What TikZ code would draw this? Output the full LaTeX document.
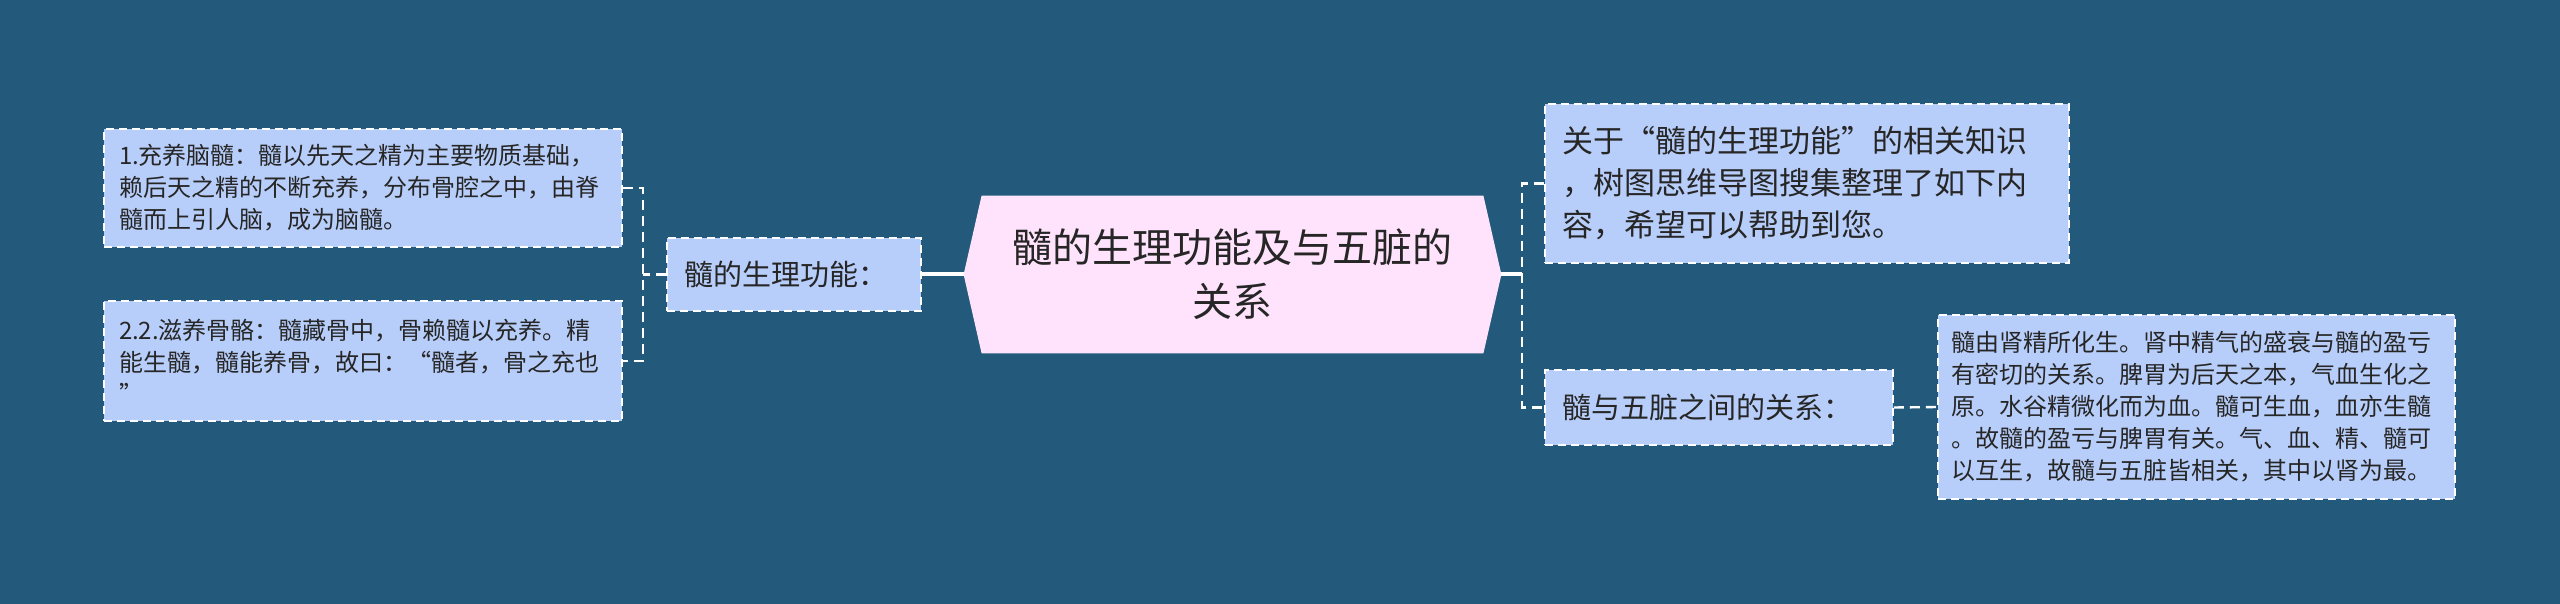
\documentclass[tikz,border=0pt]{standalone}
\usepackage{fontspec}
\setmainfont{Noto Sans CJK SC}
\usetikzlibrary{backgrounds}
\pgfdeclarelayer{bg}
\pgfsetlayers{bg,background,main}
\definecolor{bgblue}{HTML}{235A7C}
\definecolor{boxblue}{HTML}{B8CEFA}
\definecolor{hexpink}{HTML}{FFE3FC}
\definecolor{txt}{HTML}{262626}
\tikzset{
  box/.style={draw=white, dash pattern=on 4pt off 2.5pt, line width=0.9pt,
    fill=boxblue, text=txt, inner ysep=0pt, align=left},
  conn/.style={draw=white, dash pattern=on 5pt off 3pt, line width=1.2pt},
  solidconn/.style={draw=white, line width=2pt},
  smalltxt/.style={font=\fontsize{12}{16}\selectfont},
}
\begin{document}
\begin{tikzpicture}[x=0.5pt,y=-0.5pt]
\useasboundingbox (0,0) rectangle (2560,604);
\begin{pgfonlayer}{bg}
\fill[bgblue] (0,0) rectangle (2560,604);
\end{pgfonlayer}

% central hexagon
\node[text=txt, align=center, minimum width=250.5pt, minimum height=78.5pt,
      inner sep=0pt, font=\fontsize{20}{27}\selectfont] (c) at (1232.5,274.5)
      {髓的生理功能及与五脏的\\关系};
\coordinate (cw) at ([xshift=-9pt]c.west);
\coordinate (ce) at ([xshift=9pt]c.east);
\begin{pgfonlayer}{background}
\fill[hexpink] (c.north west) -- (c.north east) -- (ce) -- (c.south east)
  -- (c.south west) -- (cw) -- cycle;
\end{pgfonlayer}

% left side
\node[box, smalltxt, inner xsep=7.5pt, text width=244pt, minimum height=59pt] (b1) at (363,188)
 {1.充养脑髓：髓以先天之精为主要物质基础，\\赖后天之精的不断充养，分布骨腔之中，由脊\\髓而上引人脑，成为脑髓。};
\node[box, smalltxt, inner xsep=7.5pt, text width=244pt, minimum height=60pt] (b2) at (363,361)
 {2.2.滋养骨骼：髓藏骨中，骨赖髓以充养。精\\能生髓，髓能养骨，故曰：“髓者，骨之充也\\”};
\node[box, inner xsep=8.5pt, text width=110pt, minimum height=36.5pt,
      font=\fontsize{14.5}{18}\selectfont] (f) at (794,274.5) {髓的生理功能：};

% right side
\node[box, inner xsep=8.5pt, text width=245pt, minimum height=79.5pt,
      font=\fontsize{15.5}{21}\selectfont] (t) at (1807,183.5)
 {关于“髓的生理功能”的相关知识\\，树图思维导图搜集整理了如下内\\容，希望可以帮助到您。};
\node[box, inner xsep=8.5pt, text width=157pt, minimum height=37.5pt,
      font=\fontsize{14.5}{18}\selectfont] (r) at (1719,407.5) {髓与五脏之间的关系：};
\node[box, smalltxt, inner xsep=6.5pt, text width=245.5pt, minimum height=92pt] (rb) at (2196.5,407)
 {髓由肾精所化生。肾中精气的盛衰与髓的盈亏\\有密切的关系。脾胃为后天之本，气血生化之\\原。水谷精微化而为血。髓可生血，血亦生髓\\。故髓的盈亏与脾胃有关。气、血、精、髓可\\以互生，故髓与五脏皆相关，其中以肾为最。};

% connectors left
\coordinate (lj) at (643,274.5);
\coordinate (lt) at (643,188);
\coordinate (lb) at (643,361);
\draw[conn] (f.west) -- (lj);
\draw[conn] (b1.east) -- (lt) -- (lb) -- (b2.east);
\draw[solidconn] (f.east) -- (cw);

% connectors right
\coordinate (rj) at (1522,274.5);
\coordinate (rt) at (1522,183.5);
\coordinate (rbt) at (1522,407.5);
\draw[solidconn] (ce) -- (rj);
\draw[conn] (t.west) -- (rt) -- (rbt) -- (r.west);
\draw[conn] (r.east) -- (rb.west);
\end{tikzpicture}
\end{document}
